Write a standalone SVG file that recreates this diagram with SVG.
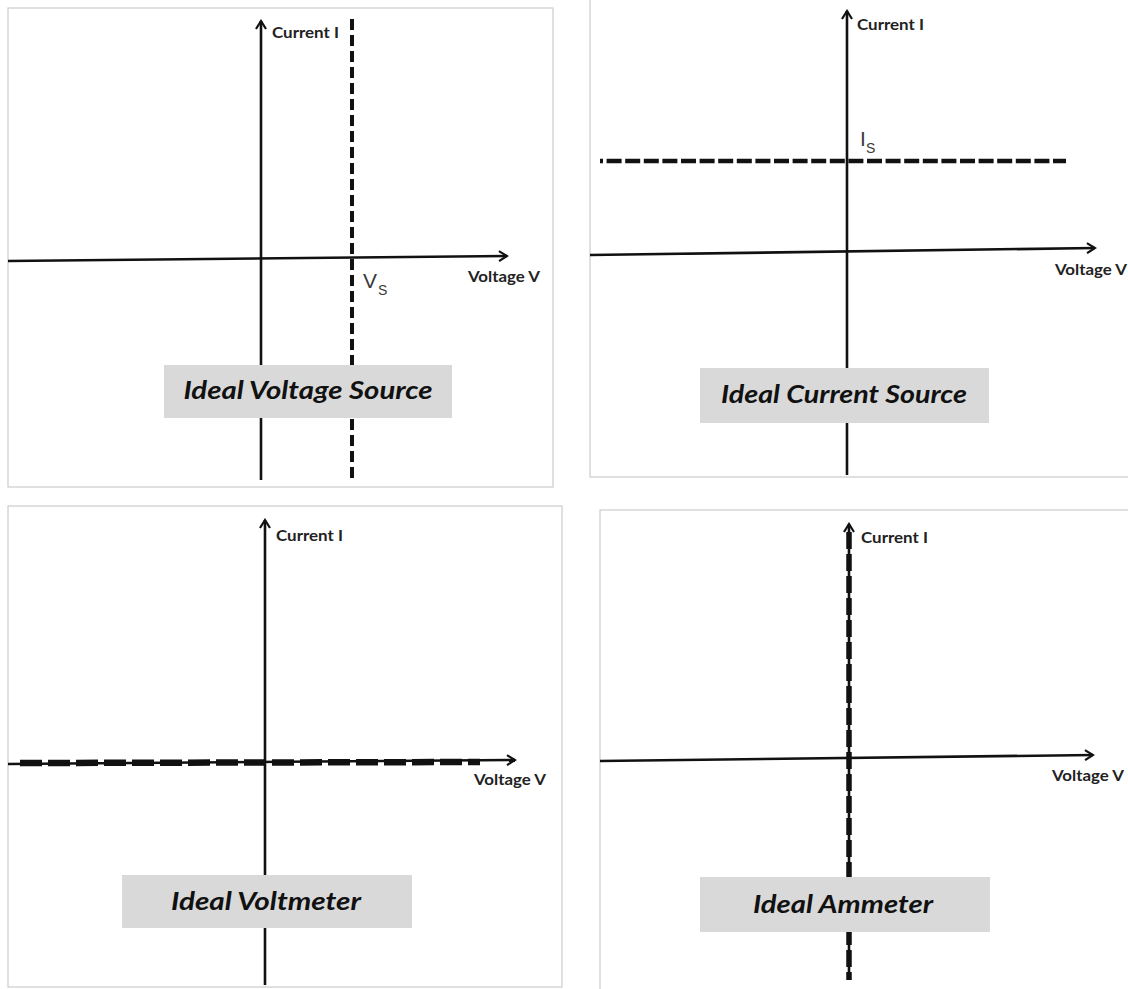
<svg xmlns="http://www.w3.org/2000/svg" width="1128" height="989" viewBox="0 0 1128 989">
<style>
.frame{fill:#ffffff;stroke:#cccccc;stroke-width:1.2}
.axis{stroke:#111111;stroke-width:2.6;fill:none}
.lab{font-family:Lato,"Liberation Sans",sans-serif;font-weight:bold;font-size:16px;fill:#222222}
.box{fill:#d9d9d9}
.title{font-family:Lato,"Liberation Sans",sans-serif;font-weight:bold;font-style:italic;font-size:25px;fill:#111111;text-anchor:middle}
.sym{font-family:"Liberation Sans",Lato,sans-serif;font-size:21px;fill:#3a3a3a}
.sub{font-family:"Liberation Sans",Lato,sans-serif;font-size:14px;fill:#3a3a3a}
.dash{fill:none;stroke:#111111}
</style>
<defs>
<marker id="arr" viewBox="0 0 12 12" refX="10" refY="6" markerWidth="12" markerHeight="12" markerUnits="userSpaceOnUse" orient="auto">
<path d="M2,1 L10,6 L2,11" fill="none" stroke="#111111" stroke-width="2.2"/>
</marker>
</defs>
<rect width="1128" height="989" fill="#ffffff"/>

<g id="panel-voltage-source">
<rect class="frame" x="8" y="8" width="545" height="479"/>
<g id="vs-axes">
<line class="axis" x1="8" y1="261" x2="507" y2="256" marker-end="url(#arr)"/>
<line class="axis" x1="261" y1="480" x2="261" y2="21" marker-end="url(#arr)"/>
</g>
<line class="dash" x1="352" y1="19" x2="352" y2="482" stroke-width="4" stroke-dasharray="11 5"/>
<text class="lab" x="272" y="38" textLength="67" lengthAdjust="spacingAndGlyphs">Current I</text>
<text class="lab" x="468" y="282" textLength="72" lengthAdjust="spacingAndGlyphs">Voltage V</text>
<text class="sym" x="363" y="288">V</text><text class="sub" x="378" y="295">S</text>
<rect class="box" x="164" y="365" width="288" height="53"/>
<text class="title" x="308" y="399" textLength="249" lengthAdjust="spacingAndGlyphs">Ideal Voltage Source</text>
</g>

<g id="panel-current-source">
<rect class="frame" x="590" y="-2" width="545" height="479"/>
<g id="cs-axes">
<line class="axis" x1="590" y1="255" x2="1095" y2="248" marker-end="url(#arr)"/>
<line class="axis" x1="847" y1="475" x2="847" y2="11" marker-end="url(#arr)"/>
</g>
<line class="dash" x1="600" y1="161" x2="1066" y2="161" stroke-width="4.5" stroke-dasharray="15 3.6" stroke-dashoffset="12"/>
<text class="lab" x="857" y="30" textLength="67" lengthAdjust="spacingAndGlyphs">Current I</text>
<text class="lab" x="1055" y="275" textLength="72" lengthAdjust="spacingAndGlyphs">Voltage V</text>
<text class="sym" x="860" y="146">I</text><text class="sub" x="866" y="153">S</text>
<rect class="box" x="700" y="368" width="289" height="55"/>
<text class="title" x="844" y="403" textLength="246" lengthAdjust="spacingAndGlyphs">Ideal Current Source</text>
</g>

<g id="panel-voltmeter">
<rect class="frame" x="8" y="506" width="554" height="481"/>
<g id="vm-axes">
<line class="axis" x1="8" y1="764" x2="515" y2="760" marker-end="url(#arr)"/>
<line class="axis" x1="265" y1="985" x2="265" y2="520" marker-end="url(#arr)"/>
</g>
<line class="dash" x1="20" y1="763" x2="480" y2="762" stroke-width="6.5" stroke-dasharray="22 6"/>
<text class="lab" x="276" y="541" textLength="67" lengthAdjust="spacingAndGlyphs">Current I</text>
<text class="lab" x="474" y="785" textLength="72" lengthAdjust="spacingAndGlyphs">Voltage V</text>
<rect class="box" x="122" y="875" width="290" height="53"/>
<text class="title" x="266" y="910" textLength="190" lengthAdjust="spacingAndGlyphs">Ideal Voltmeter</text>
</g>

<g id="panel-ammeter">
<rect class="frame" x="600" y="510" width="540" height="490"/>
<g id="am-axes">
<line class="axis" x1="600" y1="761" x2="1093" y2="755" marker-end="url(#arr)"/>
<line class="axis" x1="849" y1="980" x2="849" y2="524" marker-end="url(#arr)"/>
</g>
<line class="dash" x1="849" y1="532" x2="849" y2="980" stroke-width="5.5" stroke-dasharray="17 5"/>
<text class="lab" x="861" y="543" textLength="67" lengthAdjust="spacingAndGlyphs">Current I</text>
<text class="lab" x="1052" y="781" textLength="72" lengthAdjust="spacingAndGlyphs">Voltage V</text>
<rect class="box" x="700" y="877" width="290" height="55"/>
<text class="title" x="843" y="913" textLength="180" lengthAdjust="spacingAndGlyphs">Ideal Ammeter</text>
</g>
</svg>
